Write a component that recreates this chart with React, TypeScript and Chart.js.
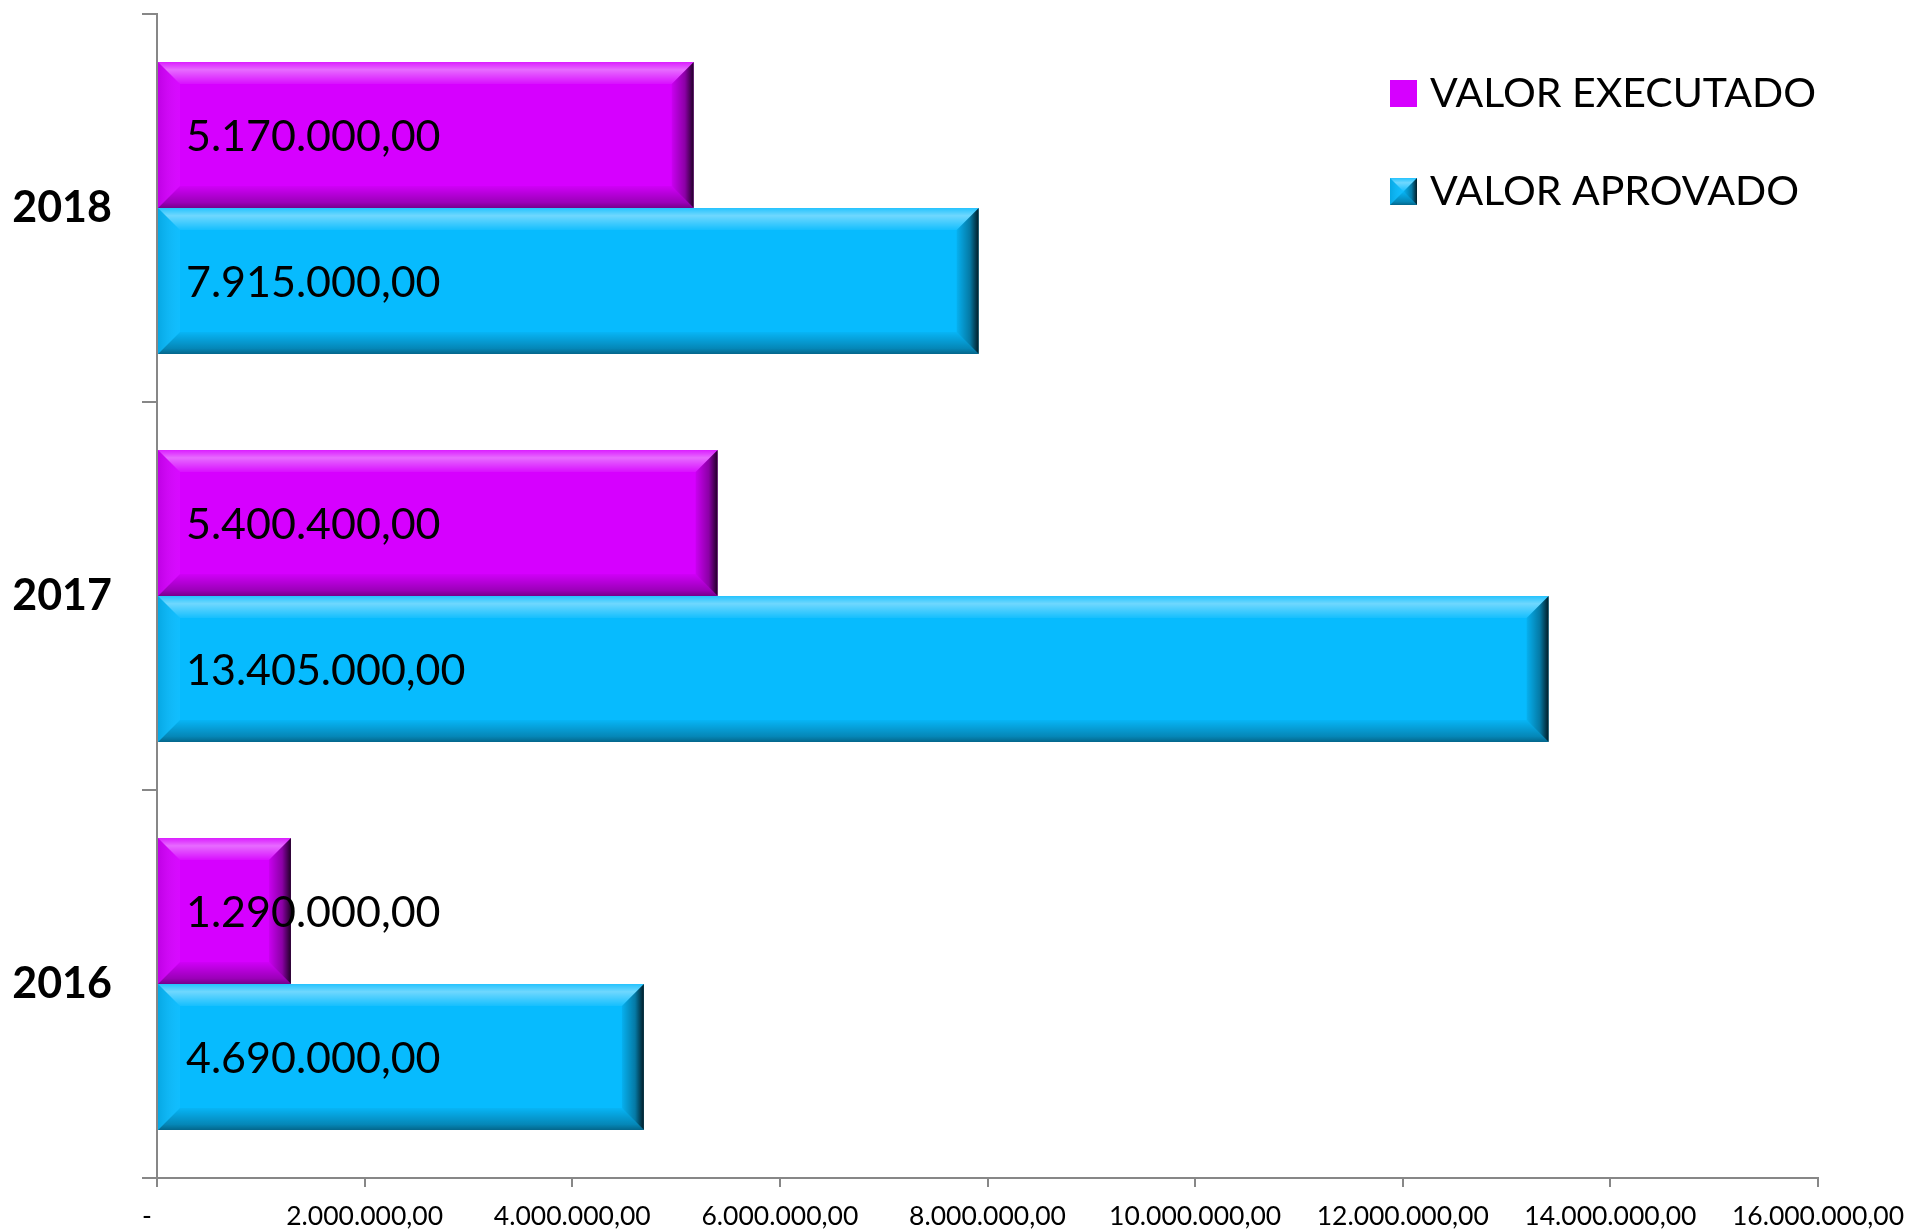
import React, { useEffect, useRef } from "react";
import { Chart, registerables } from "chart.js";

Chart.register(...registerables);

const categories = ["2018", "2017", "2016"];
const seriesNames = ["VALOR EXECUTADO", "VALOR APROVADO"];
const valorExecutado = [5170000, 5400400, 1290000];
const valorAprovado = [7915000, 13405000, 4690000];
const seriesColors = ["#D600FF", "#07BBFE"];
const xMax = 16000000;
const xStep = 2000000;

function formatBR(v: number): string {
  if (v === 0) return "-";
  const [i, d] = v.toFixed(2).split(".");
  return i.replace(/\B(?=(\d{3})+(?!\d))/g, ".") + "," + d;
}

function poly(ctx: CanvasRenderingContext2D, pts: number[][], fill: any) {
  ctx.beginPath();
  ctx.moveTo(pts[0][0], pts[0][1]);
  for (let k = 1; k < pts.length; k++) ctx.lineTo(pts[k][0], pts[k][1]);
  ctx.closePath();
  ctx.fillStyle = fill;
  ctx.fill();
}

function bevel(ctx: CanvasRenderingContext2D, l: number, t: number, r: number, b: number, s: number) {
  const sz = Math.min(s, (r - l) / 2, (b - t) / 2);
  let g = ctx.createLinearGradient(0, t, 0, t + sz);
  g.addColorStop(0, "rgba(255,255,255,0.12)");
  g.addColorStop(0.35, "rgba(255,255,255,0.42)");
  g.addColorStop(1, "rgba(255,255,255,0.06)");
  poly(ctx, [[l, t], [r, t], [r - sz, t + sz], [l + sz, t + sz]], g);
  g = ctx.createLinearGradient(0, b - sz, 0, b);
  g.addColorStop(0, "rgba(0,0,0,0.03)");
  g.addColorStop(0.75, "rgba(0,0,0,0.28)");
  g.addColorStop(1, "rgba(0,0,0,0.45)");
  poly(ctx, [[l, b], [r, b], [r - sz, b - sz], [l + sz, b - sz]], g);
  g = ctx.createLinearGradient(r - sz, 0, r, 0);
  g.addColorStop(0, "rgba(0,0,0,0.06)");
  g.addColorStop(0.6, "rgba(0,0,0,0.35)");
  g.addColorStop(1, "rgba(0,0,0,0.85)");
  poly(ctx, [[r, t], [r, b], [r - sz, b - sz], [r - sz, t + sz]], g);
  g = ctx.createLinearGradient(l, 0, l + sz, 0);
  g.addColorStop(0, "rgba(0,0,0,0.10)");
  g.addColorStop(1, "rgba(255,255,255,0.04)");
  poly(ctx, [[l, t], [l, b], [l + sz, b - sz], [l + sz, t + sz]], g);
}

const barDecor = {
  id: "barDecor",
  afterDatasetsDraw(chart: any) {
    const ctx: CanvasRenderingContext2D = chart.ctx;
    ctx.save();
    chart.data.datasets.forEach((ds: any, di: number) => {
      const meta = chart.getDatasetMeta(di);
      meta.data.forEach((el: any) => {
        const p = el.getProps(["x", "y", "base", "height"], true);
        const l = Math.min(p.base, p.x);
        const r = Math.max(p.base, p.x);
        const t = p.y - p.height / 2;
        const b = p.y + p.height / 2;
        bevel(ctx, l, t, r, b, 22);
      });
    });
    ctx.font = "43px Lato";
    ctx.fillStyle = "#000";
    ctx.textBaseline = "middle";
    ctx.textAlign = "left";
    chart.data.datasets.forEach((ds: any, di: number) => {
      const meta = chart.getDatasetMeta(di);
      meta.data.forEach((el: any, i: number) => {
        const p = el.getProps(["x", "y", "base", "height"], true);
        ctx.fillText(formatBR(ds.data[i]), Math.min(p.base, p.x) + 28, p.y + 2);
      });
    });
    ctx.restore();
  },
};

const customLegend = {
  id: "customLegend",
  afterDraw(chart: any) {
    const ctx: CanvasRenderingContext2D = chart.ctx;
    const area = chart.chartArea;
    const x0 = area.right - 428;
    const tops = [80, 178];
    ctx.save();
    ctx.font = "41px Lato";
    ctx.textBaseline = "alphabetic";
    ctx.textAlign = "left";
    chart.data.datasets.forEach((ds: any, i: number) => {
      const top = tops[i];
      ctx.fillStyle = ds.backgroundColor;
      ctx.fillRect(x0, top, 27, 27);
      if (i === 1) bevel(ctx, x0, top, x0 + 27, top + 27, 13.5);
      ctx.fillStyle = "#000";
      ctx.fillText(ds.label, x0 + 40, top + 27);
    });
    ctx.restore();
  },
};

export default function App() {
  const ref = useRef<HTMLCanvasElement>(null);
  useEffect(() => {
    document.body.style.margin = "0";
    const chart = new Chart(ref.current!, {
      type: "bar",
      data: {
        labels: categories,
        datasets: [
          { label: seriesNames[0], data: valorExecutado, backgroundColor: seriesColors[0], borderWidth: 0 },
          { label: seriesNames[1], data: valorAprovado, backgroundColor: seriesColors[1], borderWidth: 0 },
        ],
      },
      options: {
        indexAxis: "y",
        responsive: false,
        animation: false,
        devicePixelRatio: 1,
        layout: { padding: { left: 0, top: 14, right: 92, bottom: 0 } },
        datasets: { bar: { categoryPercentage: 0.752, barPercentage: 1 } },
        plugins: { legend: { display: false }, tooltip: { enabled: false } },
        scales: {
          x: {
            min: 0,
            max: xMax,
            ticks: {
              stepSize: xStep,
              color: "#000",
              font: { family: "Lato", size: 26.5 },
              padding: 14,
              maxRotation: 0,
              autoSkip: false,
              callback: (v: any) => (Number(v) === 0 ? "-   " : formatBR(Number(v))),
            },
            grid: { drawOnChartArea: false, tickLength: 9, color: "#878787", lineWidth: 2 },
            border: { display: true, color: "#878787", width: 2 },
            afterFit: (s: any) => {
              s.height = 51;
              s.paddingLeft = 0;
              s.paddingRight = 0;
            },
          },
          y: {
            ticks: { color: "#000", font: { family: "Lato", size: 43, weight: "bold" }, padding: 30 },
            grid: { drawOnChartArea: false, tickLength: 15, color: "#878787", lineWidth: 2, offset: true },
            border: { display: true, color: "#878787", width: 2 },
            afterFit: (s: any) => {
              s.width = 157;
              s.paddingTop = 0;
              s.paddingBottom = 0;
            },
          },
        },
      },
      plugins: [barDecor, customLegend],
    } as any);
    return () => chart.destroy();
  }, []);
  return (
    <div style={{ width: 1910, height: 1229, background: "#fff" }}>
      <canvas ref={ref} width={1910} height={1229} />
    </div>
  );
}
